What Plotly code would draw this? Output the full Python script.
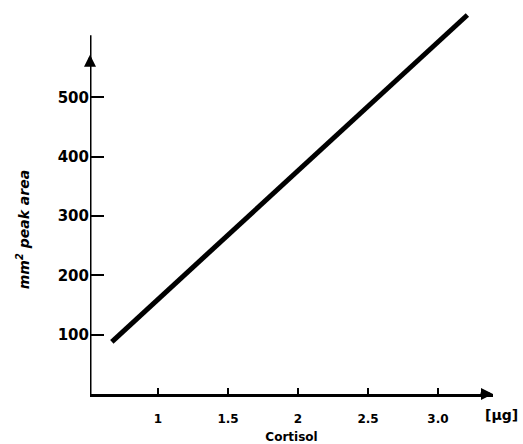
import plotly.graph_objects as go

# Data
cortisol_ug = [0.67, 3.21]
peak_area_mm2 = [88, 639]

x_tick_vals = [1, 1.5, 2, 2.5, 3.0]
x_tick_text = ["1", "1.5", "2", "2.5", "3.0"]
y_tick_vals = [100, 200, 300, 400, 500]
y_tick_text = ["100", "200", "300", "400", "500"]

X_MIN, X_MAX = 0.514, 3.393
Y_MIN, Y_MAX = 0, 644
Y_AXIS_TOP = 605
Y_ARROW_TIP = 572

FONT = "DejaVu Sans"

fig = go.Figure(
    go.Scatter(
        x=cortisol_ug, y=peak_area_mm2, mode="lines",
        line=dict(color="black", width=5), hoverinfo="skip", showlegend=False,
    )
)

fig.update_layout(
    width=523, height=444,
    margin=dict(l=90, r=30, t=12, b=50),
    paper_bgcolor="white", plot_bgcolor="white",
    font=dict(family=FONT, color="black", weight="bold"),
    xaxis=dict(
        range=[X_MIN, X_MAX], showgrid=False, zeroline=False, automargin=False,
        showline=True, linecolor="black", linewidth=3,
        ticks="inside", ticklen=6, tickwidth=2, tickcolor="black",
        tickvals=x_tick_vals, ticktext=x_tick_text,
        tickfont=dict(size=12, family=FONT, weight="bold"),
        ticklabelstandoff=12,
        title=dict(text="Cortisol", font=dict(size=12, family=FONT, weight="bold"), standoff=10),
    ),
    yaxis=dict(
        range=[Y_MIN, Y_MAX], showgrid=False, zeroline=False, showline=False,
        automargin=False,
        ticks="inside", ticklen=14, tickwidth=2, tickcolor="black",
        tickvals=y_tick_vals, ticktext=y_tick_text,
        tickfont=dict(size=15, family=FONT, weight="bold"),
    ),
    shapes=[
        dict(type="line", xref="x", yref="y", x0=X_MIN, x1=X_MIN, y0=0, y1=Y_AXIS_TOP,
             line=dict(color="black", width=3)),
    ],
    annotations=[
        dict(x=X_MIN, y=Y_ARROW_TIP, ax=X_MIN, ay=Y_ARROW_TIP - 20, xref="x", yref="y",
             axref="x", ayref="y", showarrow=True, arrowhead=2, arrowsize=0.8,
             arrowwidth=3, arrowcolor="black", text=""),
        dict(x=X_MAX, y=0, ax=X_MAX - 0.1, ay=0, xref="x", yref="y",
             axref="x", ayref="y", showarrow=True, arrowhead=2, arrowsize=0.8,
             arrowwidth=3, arrowcolor="black", text=""),
        dict(x=X_MAX, y=0, xref="x", yref="y", text="[μg]", showarrow=False,
             xanchor="center", yanchor="middle", xshift=8, yshift=-21,
             font=dict(size=14, family=FONT, weight="bold")),
        dict(x=-0.166, y=0.429, xref="paper", yref="paper",
             text="<i>mm<sup>2</sup> peak area</i>", showarrow=False, textangle=-90,
             xanchor="center", yanchor="middle",
             font=dict(size=14, family=FONT, weight="bold")),
    ],
)

fig.write_html(
    "out.html",
    config={"displayModeBar": False},
    post_script="document.body.style.margin='0';document.body.style.overflow='hidden';",
)
